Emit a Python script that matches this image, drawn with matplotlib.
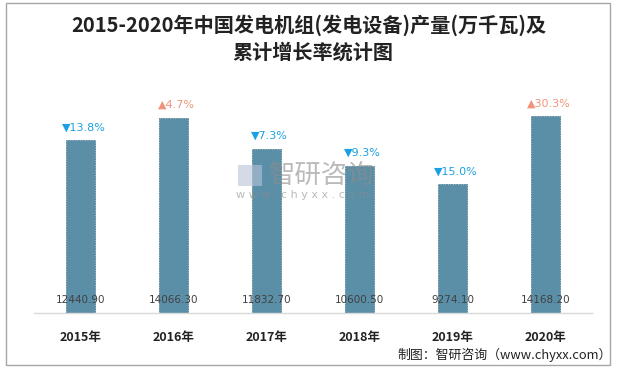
import matplotlib
matplotlib.use("Agg")
import matplotlib.pyplot as plt
from matplotlib.patches import Rectangle

plt.rcParams['font.family'] = ['Noto Sans CJK SC', 'DejaVu Sans']

years = ["2015年", "2016年", "2017年", "2018年", "2019年", "2020年"]
output = [12440.90, 14066.30, 11832.70, 10600.50, 9274.10, 14168.20]
growth = [-13.8, 4.7, -7.3, -9.3, -15.0, 30.3]

title_lines = ["2015-2020年中国发电机组(发电设备)产量(万千瓦)及", "累计增长率统计图"]
source = "制图：智研咨询（www.chyxx.com）"

bar_color = "#5B8FA7"
up_color = "#F0937A"
down_color = "#1BA1E2"

fig = plt.figure(figsize=(6.17, 3.68), dpi=100)
ax = fig.add_axes([34/617, 1-313/368, (592-34)/617, (313-91)/368])

x = list(range(len(years)))
ax.bar(x, output, width=0.31, color=bar_color, edgecolor="#4F7F96",
       linewidth=0.6, linestyle=(0, (2, 1)), zorder=2)
ax.set_xlim(-0.5, len(years) - 0.5)
ax.set_ylim(0, 16000)

for i, (v, g) in enumerate(zip(output, growth)):
    ax.annotate(f"{v:.2f}", (i, 0), xytext=(0, 13), textcoords="offset pixels",
                ha="center", va="center", fontsize=7.5, color="#404040",
                family=['DejaVu Sans'], zorder=4)
    if g >= 0:
        s, c = f"▲{g:.1f}%", up_color
    else:
        s, c = f"▼{abs(g):.1f}%", down_color
    ax.annotate(s, (i, v), xytext=(3, 8), textcoords="offset pixels",
                ha="center", va="bottom", fontsize=8, color=c,
                family=['DejaVu Sans'], zorder=4)

ax.set_xticks(x)
ax.set_xticklabels(years, fontsize=9, fontweight="bold", color="#222222")
ax.tick_params(axis="x", length=0, pad=13)
ax.set_yticks([])
for sp in ["top", "right", "left"]:
    ax.spines[sp].set_visible(False)
ax.spines["bottom"].set_color("#D9D9D9")
ax.spines["bottom"].set_linewidth(1.0)

fig.text(308.5/617, 1 - 25/368, title_lines[0], ha="center", va="center",
         fontsize=14.5, fontweight="bold", color="#222222")
fig.text(313/617, 1 - 52/368, title_lines[1], ha="center", va="center",
         fontsize=14.5, fontweight="bold", color="#222222")

# watermark
fig.patches.append(Rectangle((238/617, 1-186/368), 24/617, 21/368,
                             transform=fig.transFigure, facecolor="#B8C4D8",
                             alpha=0.6, edgecolor="none", zorder=5))
fig.text(322/617, 1-175/368, "智研咨询", ha="center", va="center", fontsize=19,
         color="#8C8C8C", alpha=0.6, zorder=6)
fig.text(303/617, 1-195/368, "w w w . c h y x x . c o m", ha="center", va="center",
         fontsize=8, color="#8C8C8C", alpha=0.6, zorder=6, family=['DejaVu Sans'])

fig.text(612/617, 1-355/368, source, ha="right", va="center", fontsize=9.3,
         color="#222222")

fig.patches.append(Rectangle((6/617, 3/368), 604/617, 362/368,
                             transform=fig.transFigure, facecolor="none",
                             edgecolor="#A6A6A6", linewidth=1.0, zorder=0))

fig.savefig("out.png", dpi=100)
